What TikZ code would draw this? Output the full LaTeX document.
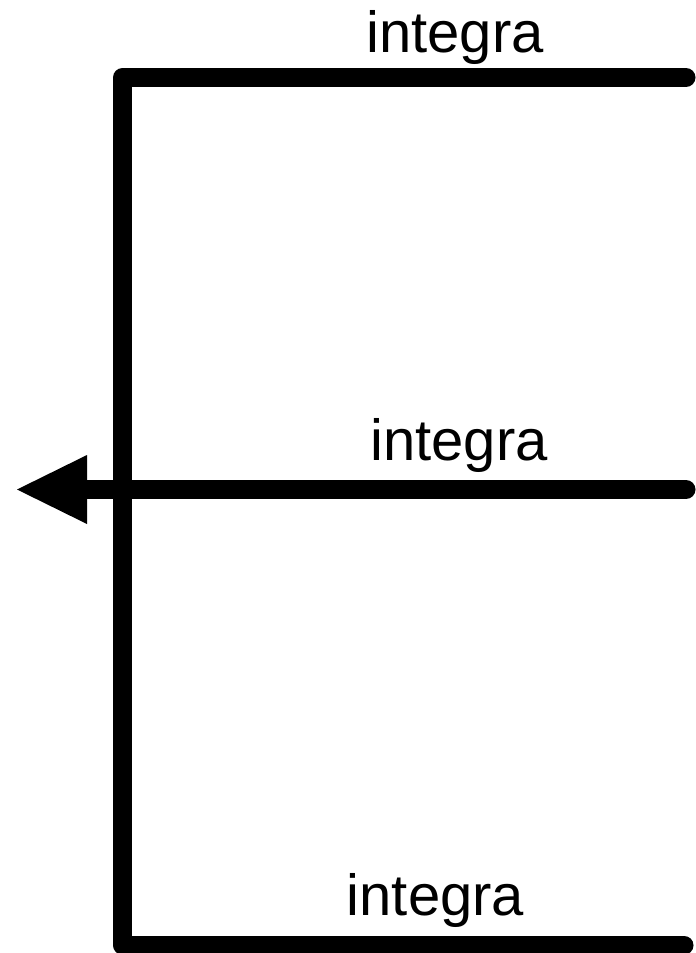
\documentclass[tikz,border=0pt]{standalone}
\usepackage{fontspec}
\setmainfont{Liberation Sans}
\usetikzlibrary{arrows.meta}
\begin{document}
\begin{tikzpicture}[x=1pt,y=-1pt,
  wire/.style={line width=19pt, line cap=round, line join=round},
  lbl/.style={inner sep=0pt, anchor=base, font=\fontsize{58}{60}\selectfont}]
\useasboundingbox (0,0) rectangle (696,953);
\coordinate (tr) at (686,77.5);
\coordinate (tl) at (122.5,77.5);
\coordinate (bl) at (122.5,945);
\coordinate (br) at (684,945);
\coordinate (mr) at (686,489.5);
\coordinate (tip) at (17,489.5);
\draw[wire] (tr) -- (tl) -- (bl) -- (br);
\draw[wire, -{Triangle[length=70pt,width=69pt,line width=0pt]}] (mr) -- (tip);
\node[lbl] (t1) at (455,52) {integra};
\node[lbl] (t2) at (459,460) {integra};
\node[lbl] (t3) at (435.5,915) {integra};
\end{tikzpicture}
\end{document}
